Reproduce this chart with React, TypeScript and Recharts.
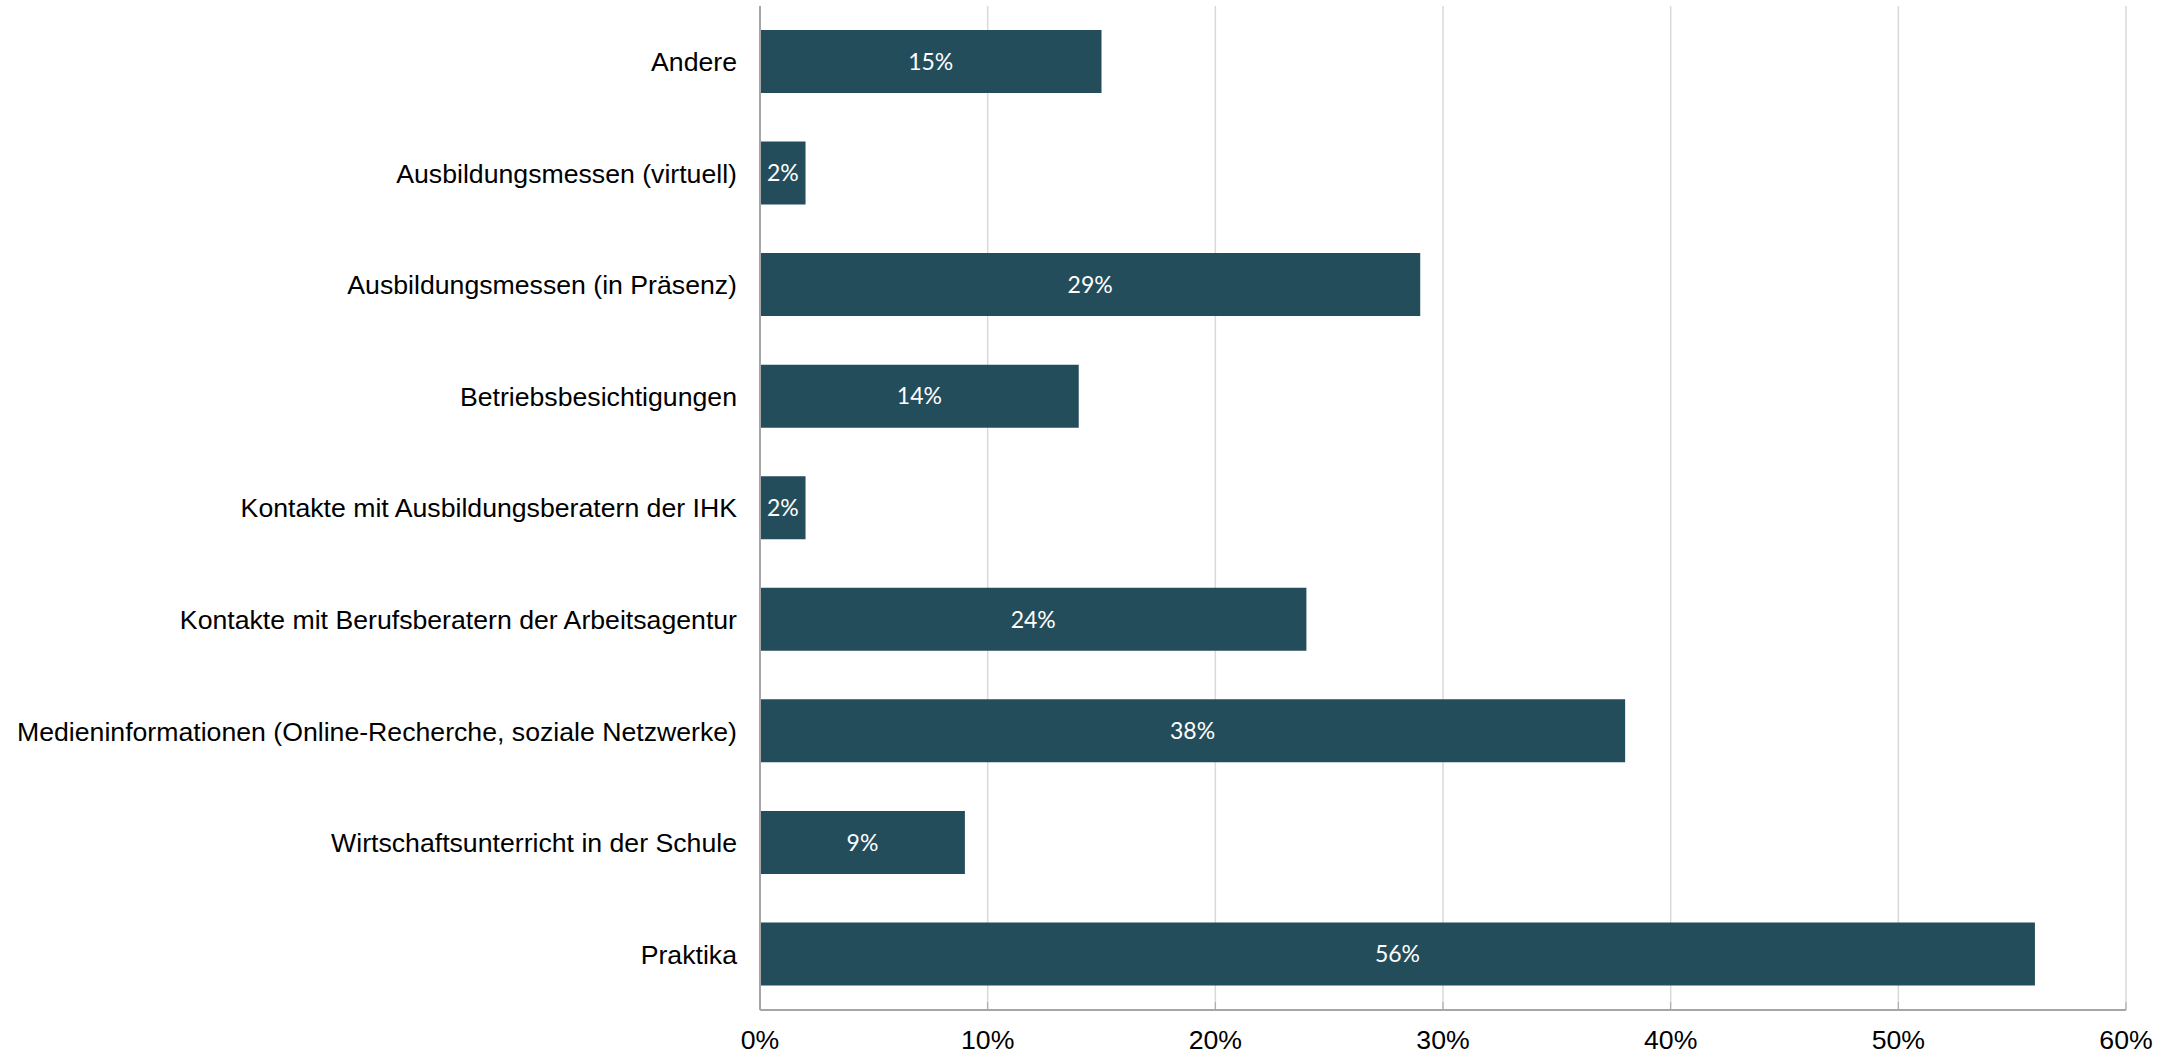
import React from 'react';
import { BarChart, Bar, XAxis, YAxis, CartesianGrid, LabelList } from 'recharts';

const categories = [
  'Andere',
  'Ausbildungsmessen (virtuell)',
  'Ausbildungsmessen (in Präsenz)',
  'Betriebsbesichtigungen',
  'Kontakte mit Ausbildungsberatern der IHK',
  'Kontakte mit Berufsberatern der Arbeitsagentur',
  'Medieninformationen (Online-Recherche, soziale Netzwerke)',
  'Wirtschaftsunterricht in der Schule',
  'Praktika',
];
const values = [15, 2, 29, 14, 2, 24, 38, 9, 56];
const xTicks = [0, 10, 20, 30, 40, 50, 60];

const data = categories.map((name, i) => ({ name, value: values[i] }));

const BAR_COLOR = '#234D5B';
const AXIS_COLOR = '#A6A6A6';
const GRID_COLOR = '#D9D9D9';

const XTick = (props: any) => {
  const { x, y, payload } = props;
  return (
    <g>
      <line x1={x} x2={x} y1={y - 8} y2={y} stroke={AXIS_COLOR} strokeWidth={1} />
      <text
        x={x}
        y={y + 39}
        textAnchor="middle"
        fontFamily="'Liberation Sans', Arial, sans-serif"
        fontSize={26.67}
        fill="#000"
      >
        {`${payload.value}%`}
      </text>
    </g>
  );
};

const BarLabel = (props: any) => {
  const { x, y, width, height, value, index } = props;
  const id = `clip-lbl-${index}`;
  return (
    <g>
      <defs>
        <clipPath id={id}>
          <rect x={x} y={y} width={width} height={height} />
        </clipPath>
      </defs>
      <text
        x={x + width / 2}
        y={y + height / 2}
        dy="0.36em"
        textAnchor="middle"
        fontFamily="Lato, 'Open Sans', sans-serif"
        fontSize={23}
        fill="#FFFFFF"
        clipPath={`url(#${id})`}
      >
        {`${value}%`}
      </text>
    </g>
  );
};

export default function App() {
  return (
    <div style={{ position: 'absolute', left: 0, top: 0, background: '#fff' }}>
      <BarChart
        width={2164}
        height={1057}
        data={data}
        layout="vertical"
        margin={{ top: 6, right: 38, bottom: 0, left: 0 }}
      >
        <CartesianGrid horizontal={false} stroke={GRID_COLOR} strokeWidth={1.5} />
        <XAxis
          type="number"
          dataKey="value"
          domain={[0, 60]}
          ticks={xTicks}
          interval={0}
          height={47}
          axisLine={{ stroke: AXIS_COLOR, strokeWidth: 2 }}
          tickLine={false}
          tickSize={0}
          tickMargin={0}
          tick={<XTick />}
        />
        <XAxis
          xAxisId="top"
          type="number"
          orientation="top"
          domain={[0, 60]}
          height={0}
          axisLine={{ stroke: GRID_COLOR, strokeWidth: 2 }}
          tick={false}
          tickLine={false}
        />
        <YAxis
          type="category"
          dataKey="name"
          width={760}
          interval={0}
          axisLine={{ stroke: AXIS_COLOR, strokeWidth: 2 }}
          tickLine={false}
          tickSize={0}
          tickMargin={23}
          tick={{ fontFamily: "'Liberation Sans', Arial, sans-serif", fontSize: 26.67, fill: '#000' }}
        />
        <Bar dataKey="value" fill={BAR_COLOR} barSize={63} isAnimationActive={false}>
          <LabelList dataKey="value" content={<BarLabel />} />
        </Bar>
      </BarChart>
    </div>
  );
}
